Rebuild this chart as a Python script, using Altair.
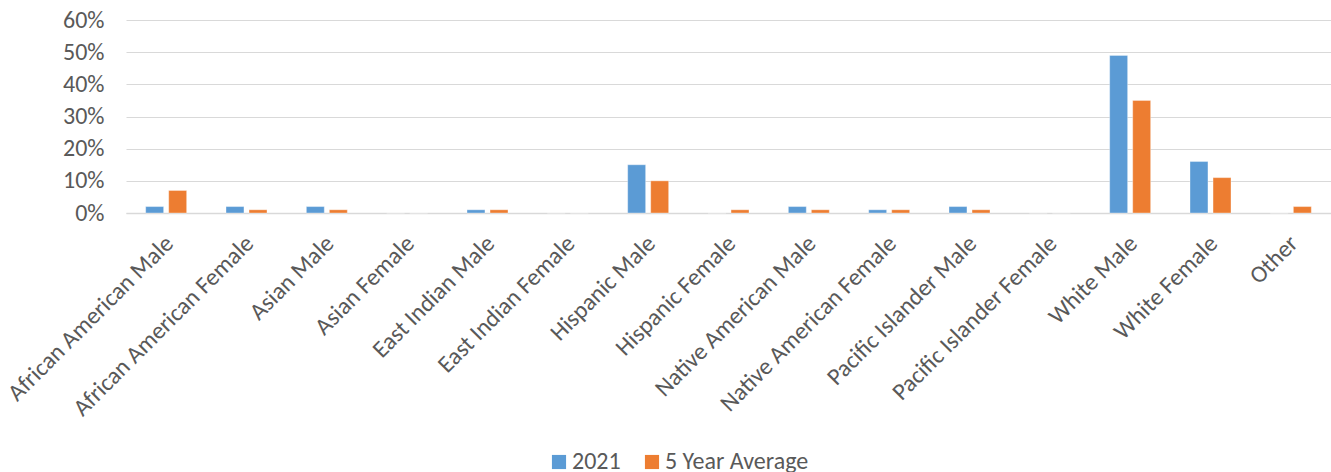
import altair as alt
import pandas as pd

categories = ["African American Male", "African American Female", "Asian Male", "Asian Female",
              "East Indian Male", "East Indian Female", "Hispanic Male", "Hispanic Female",
              "Native American Male", "Native American Female", "Pacific Islander Male",
              "Pacific Islander Female", "White Male", "White Female", "Other"]
values_2021 = [2, 2, 2, 0, 1, 0, 15, 0, 2, 1, 2, 0, 49, 16, 0]
values_5yr = [7, 1, 1, 0, 1, 0, 10, 1, 1, 1, 1, 0, 35, 11, 2]
series = ["2021", "5 Year Average"]
colors = ["#5B9BD5", "#ED7D31"]

rows = []
for c, a, b in zip(categories, values_2021, values_5yr):
    rows.append({"category": c, "series": series[0], "value": a / 100})
    rows.append({"category": c, "series": series[1], "value": b / 100})
df = pd.DataFrame(rows)

FONT = "Carlito, Lato"
chart = alt.Chart(df).mark_bar(stroke="white", strokeWidth=0.6, strokeOpacity=0.6).encode(
    x=alt.X("category:N", sort=categories, title=None,
            scale=alt.Scale(paddingInner=0.49, paddingOuter=0.245),
            axis=alt.Axis(labelAngle=-45, labelAlign="right", labelBaseline="top",
                          labelFontSize=24, labelFont=FONT, labelColor="#595959",
                          ticks=False, domainColor="#D9D9D9", domainWidth=1.5,
                          labelPadding=18, labelOffset=-5, labelOverlap=False, labelLimit=400)),
    xOffset=alt.XOffset("series:N", sort=series, scale=alt.Scale(paddingInner=0.22)),
    y=alt.Y("value:Q", title=None,
            scale=alt.Scale(domain=[0, 0.6], nice=False),
            axis=alt.Axis(format=".0%", values=[0, 0.1, 0.2, 0.3, 0.4, 0.5, 0.6],
                          labelFontSize=24, labelFont=FONT, labelColor="#595959",
                          ticks=False, domain=False, gridColor="#D9D9D9", gridWidth=1.2,
                          labelPadding=22)),
    color=alt.Color("series:N", sort=series, title=None,
                    scale=alt.Scale(domain=series, range=colors),
                    legend=alt.Legend(orient="none", direction="horizontal",
                                      legendX=421, legendY=430,
                                      symbolType="square", symbolSize=200,
                                      symbolStrokeWidth=0, labelFontSize=24,
                                      labelFont=FONT, labelColor="#595959",
                                      columnPadding=19, labelOffset=1)),
).properties(
    width=1205, height=193,
    autosize=alt.AutoSizeParams(type="none"),
    padding={"left": 126, "top": 20, "right": 0, "bottom": 259},
).configure_view(stroke=None)

chart.save("out.html", embed_options={"renderer": "svg", "actions": False})
